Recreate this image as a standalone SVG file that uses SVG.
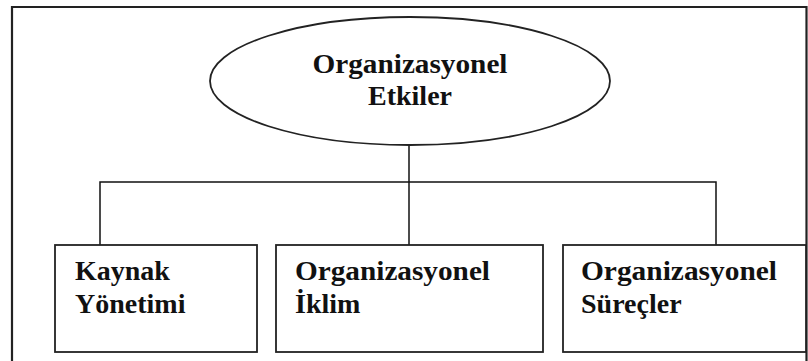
<svg xmlns="http://www.w3.org/2000/svg" width="808" height="361" viewBox="0 0 808 361">
<style>
.frame{fill:none;stroke:#222;stroke-width:2.2}
.node{fill:#fff;stroke:#222;stroke-width:1.8}
.conn{fill:none;stroke:#111;stroke-width:1.5}
.t{font-family:'Liberation Serif','Times New Roman',Tinos,'DejaVu Serif',serif;font-weight:700;font-size:28px;fill:#111}
</style>
<rect x="0" y="0" width="808" height="361" fill="#fff"/>
<path class="frame" d="M12,361 V7 H806.5 V361"/>
<g id="connectors">
<path class="conn" d="M409,145 V182"/>
<path class="conn" d="M100,245 V182 H716 V245"/>
<path class="conn" d="M409,182 V245"/>
</g>
<g id="node-etkiler">
<ellipse class="node" cx="410" cy="81" rx="200" ry="64"/>
<text class="t" x="410" y="73" text-anchor="middle" textLength="195" lengthAdjust="spacingAndGlyphs">Organizasyonel</text>
<text class="t" x="410" y="105" text-anchor="middle">Etkiler</text>
</g>
<g id="node-kaynak">
<rect class="node" x="55" y="245" width="202" height="107"/>
<text class="t" x="75" y="280">Kaynak</text>
<text class="t" x="75" y="313">Yönetimi</text>
</g>
<g id="node-iklim">
<rect class="node" x="276" y="245" width="267" height="107"/>
<text class="t" x="295" y="280" textLength="195" lengthAdjust="spacingAndGlyphs">Organizasyonel</text>
<text class="t" x="295" y="313">İklim</text>
</g>
<g id="node-surecler">
<rect class="node" x="563" y="245" width="243" height="107"/>
<text class="t" x="581" y="280" textLength="196" lengthAdjust="spacingAndGlyphs">Organizasyonel</text>
<text class="t" x="581" y="313">Süreçler</text>
</g>
</svg>
